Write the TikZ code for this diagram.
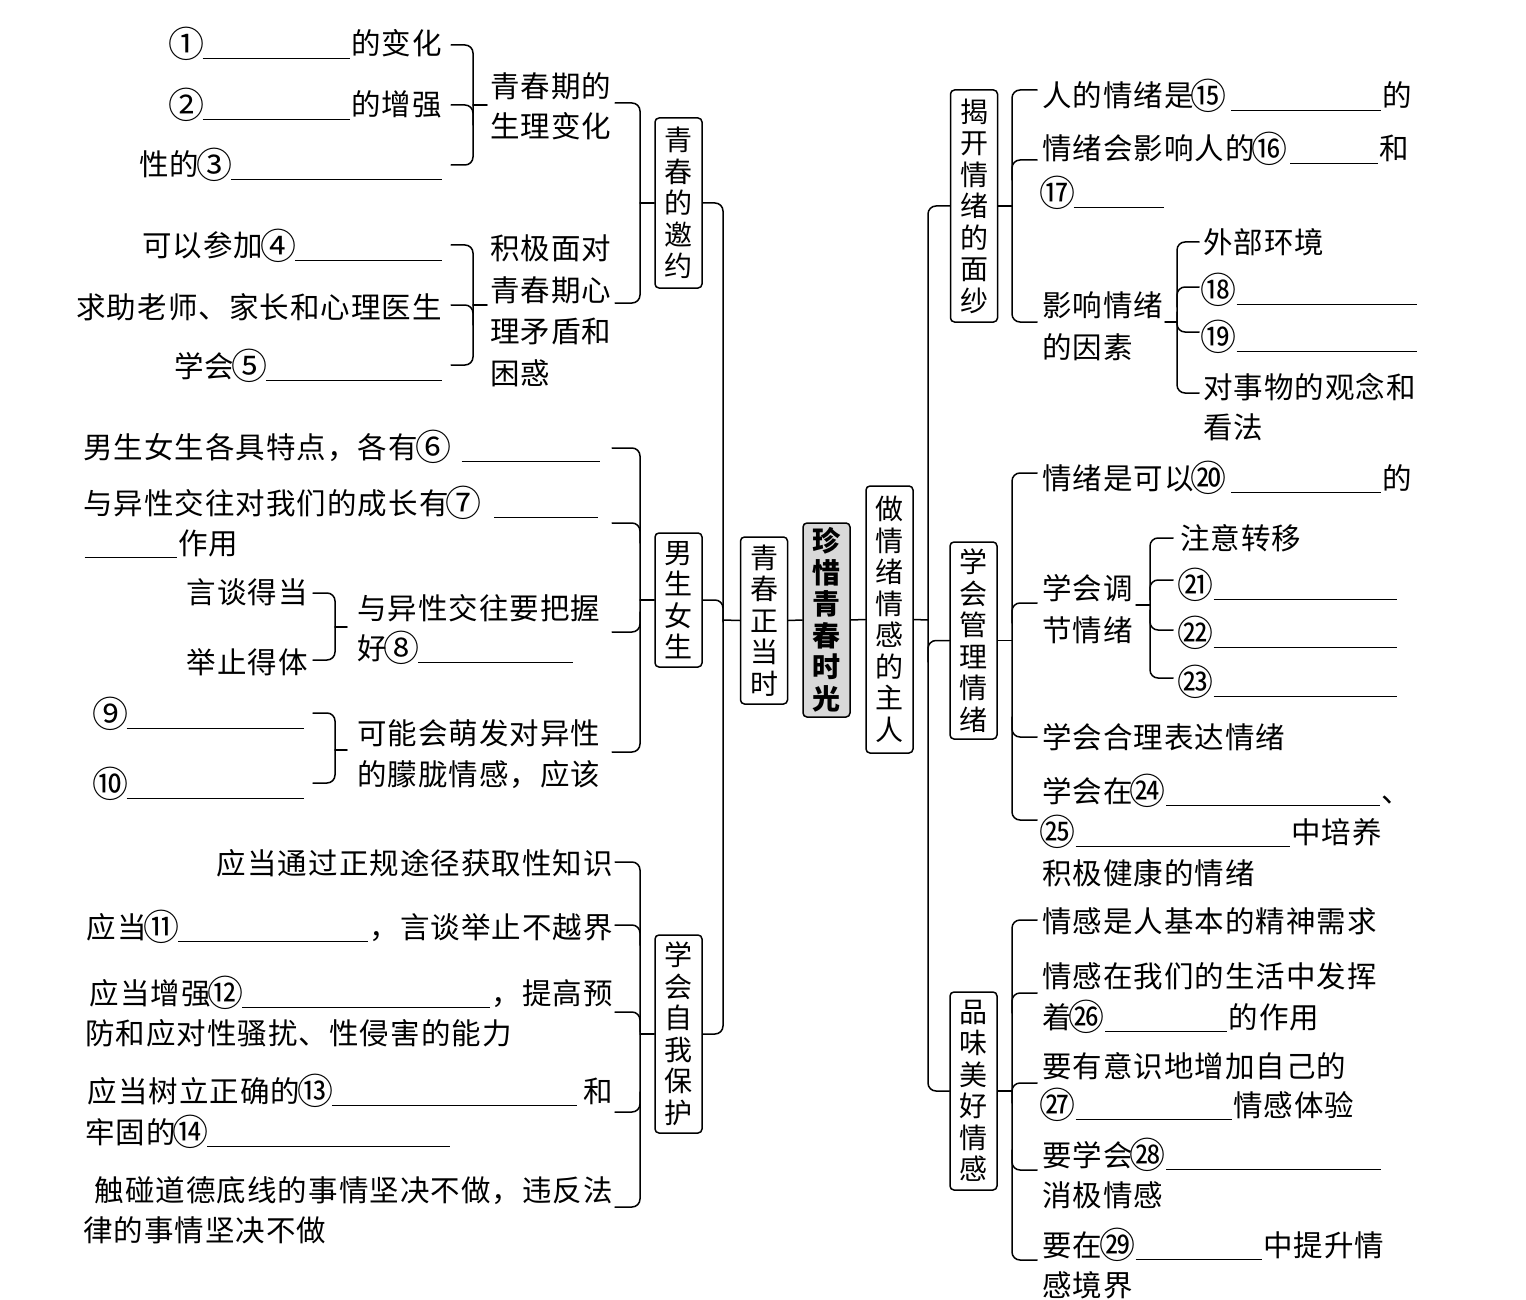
\documentclass[tikz,border=0pt]{standalone}
\usepackage{fontspec}
\usepackage{graphicx}
\setmainfont{Noto Sans CJK SC}[LetterSpace=3.5]
\newfontfamily\boxfont{Noto Sans CJK SC}
\usetikzlibrary{calc}
\newcommand\bl[1]{\hspace{1.5pt}\rule[-4pt]{#1pt}{1.4pt}\hspace{1.5pt}}
\newcommand\cn[1]{\makebox[30pt][c]{\raisebox{-2.5pt}{\scalebox{1.22}{#1}}}}
\begin{document}
\begin{tikzpicture}[x=1pt,y=-1pt,
  txl/.style={inner sep=0pt, anchor=base west, font=\fontsize{29.5}{41}\selectfont},
  txr/.style={txl, anchor=base east},
  vb/.style={draw, line width=1.5pt, rounded corners=4pt, inner sep=0pt, minimum width=47pt, align=center, font=\boxfont\fontsize{28}{31.5}\selectfont},
  br/.style={draw, line width=1.5pt, rounded corners=8pt, line cap=round}]
\useasboundingbox (0,0) rectangle (1526,1300);

% ---------- boxes ----------
\node[vb, minimum height=170pt] (b1) at (678.5,203) {青\\春\\的\\邀\\约};
\node[vb, minimum height=134pt] (b2) at (678.5,600) {男\\生\\女\\生};
\node[vb, minimum height=198pt] (b3) at (678.5,1034) {学\\会\\自\\我\\保\\护};
\node[vb, minimum height=167pt] (c1) at (764,620.5) {青\\春\\正\\当\\时};
\node[vb, minimum height=194pt, fill=gray!30, font=\boxfont\bfseries\fontsize{28}{31.5}\selectfont] (c0) at (826.5,620) {珍\\惜\\青\\春\\时\\光};
\node[vb, minimum height=267pt] (c2) at (889.5,619.5) {做\\情\\绪\\情\\感\\的\\主\\人};
\node[vb, minimum height=232pt] (r1) at (974,206) {揭\\开\\情\\绪\\的\\面\\纱};
\node[vb, minimum height=197pt] (r2) at (973.5,640.5) {学\\会\\管\\理\\情\\绪};
\node[vb, minimum height=198pt] (r3) at (973.5,1091) {品\\味\\美\\好\\情\\感};

% ---------- spines ----------
\coordinate (VL) at (723,620);
\coordinate (VR) at (928,620);
\draw[br] (b1.east) -| (723,1034) -- (b3.east);
\draw[br] (b2.east) -| (723,622);
\draw[br] (VL) -- (c1.west);
\draw[br] (c1.east) -- (c0.west);
\draw[br] (c0.east) -- (c2.west);
\draw[br] (c2.east) -- (VR);
\draw[br] (r1.west) -| (928,1091) -- (r3.west);
\draw[br] (r2.west) -| (928,662);

% ---------- left texts: group 1 ----------
\node[txr] (T1) at (442,55) {\cn{①}\bl{147}的变化};
\node[txr] (T2) at (442,116) {\cn{②}\bl{147}的增强};
\node[txr] (T3) at (442,176) {性的\cn{③}\bl{211}};
\node[txr] (T4) at (442,257) {可以参加\cn{④}\bl{147}};
\node[txr] (T5) at (442,318) {求助老师、家长和心理医生};
\node[txr] (T6) at (442,377) {学会\cn{⑤}\bl{176}};
\node[txl] (P1a) at (490,98) {青春期的};
\node[txl] (P1b) at (490,138) {生理变化};
\node[txl] (P2a) at (490,259) {积极面对};
\node[txl] (P2b) at (490,301) {青春期心};
\node[txl] (P2c) at (490,342) {理矛盾和};
\node[txl] (P2d) at (490,384) {困惑};
\draw[br] (451,45) -| (473,165) -- (451,165);
\draw[br] (451,105) -| (473,125);
\draw[br] (473,105) -- (487,105);
\draw[br] (451,245) -| (473,365) -- (451,365);
\draw[br] (451,305) -| (473,325);
\draw[br] (473,305) -- (487,305);
\coordinate (V3) at (640,0);
\draw[br] (615,103) -| (640,303) -- (615,303);
\draw[br] (b1.west) -- (b1.west -| V3);

% ---------- left texts: group 2 ----------
\node[txl] (T7) at (83,458) {男生女生各具特点，各有\cn{⑥}\hspace{12pt}\bl{138}};
\node[txl] (T8a) at (83,514) {与异性交往对我们的成长有\cn{⑦}\hspace{14pt}\bl{104}};
\node[txl] (T8b) at (83,554) {\bl{92}作用};
\node[txr] (S1a) at (308,603) {言谈得当};
\node[txr] (S1b) at (308,673) {举止得体};
\node[txl] (P3a) at (357,619) {与异性交往要把握};
\node[txl] (P3b) at (357,659) {好\cn{⑧}\bl{155}};
\node[txl] (T9) at (95,725) {\cn{⑨}\bl{177}};
\node[txl] (T10) at (95,795) {\cn{⑩}\bl{177}};
\node[txl] (P4a) at (357,744) {可能会萌发对异性};
\node[txl] (P4b) at (357,785) {的朦胧情感，应该};
\draw[br] (313,593) -| (335,660) -- (313,660);
\draw[br] (335,627) -- (347,627);
\draw[br] (313,713) -| (335,783) -- (313,783);
\draw[br] (335,750) -- (347,750);
\draw[br] (612,448) -| (640,752) -- (612,752);
\draw[br] (612,523) -| (640,543);
\draw[br] (612,632) -| (640,612);
\draw[br] (b2.west) -- (b2.west -| V3);

% ---------- left texts: group 3 ----------
\node[txr] (T11) at (613,874) {应当通过正规途径获取性知识};
\node[txr] (T12) at (613,938) {应当\cn{⑪}\bl{190}，言谈举止不越界};
\node[txr] (T13a) at (613,1004) {应当增强\cn{⑫}\bl{248}，提高预};
\node[txl] (T13b) at (85,1044) {防和应对性骚扰、性侵害的能力};
\node[txr] (T14a) at (613,1102) {应当树立正确的\cn{⑬}\bl{245}\hspace{5pt}和};
\node[txl] (T14b) at (85,1143) {牢固的\cn{⑭}\bl{243}};
\node[txr] (T15a) at (613,1201) {触碰道德底线的事情坚决不做，违反法};
\node[txl] (T15b) at (83,1241) {律的事情坚决不做};
\draw[br] (615,862) -| (640,1207) -- (615,1207);
\draw[br] (615,925) -| (640,945);
\draw[br] (615,1012) -| (640,1032);
\draw[br] (615,1112) -| (640,1092);
\draw[br] (b3.west) -- (b3.west -| V3);

% ---------- right: group 1 ----------
\coordinate (V2) at (1012,0);
\node[txl] (R1) at (1042,107) {人的情绪是\cn{⑮}\hspace{6pt}\bl{150}的};
\node[txl] (R2a) at (1042,160) {情绪会影响人的\cn{⑯}\hspace{4pt}\bl{88}和};
\node[txl] (R2b) at (1042,204) {\cn{⑰}\bl{90}};
\node[txl] (R3a) at (1042,316) {影响情绪};
\node[txl] (R3b) at (1042,358) {的因素};
\node[txl] (R4) at (1203,253) {外部环境};
\node[txl] (R5) at (1203,301) {\cn{⑱}\hspace{2pt}\bl{180}};
\node[txl] (R6) at (1203,348) {\cn{⑲}\hspace{2pt}\bl{180}};
\node[txl] (R7a) at (1203,398) {对事物的观念和};
\node[txl] (R7b) at (1203,438) {看法};
\draw[br] (1037,90) -| (1012,322) -- (1037,322);
\draw[br] (1037,160) -| (1012,180);
\draw[br] (r1.east) -- (r1.east -| V2);
\draw[br] (1199,242) -| (1177,393) -- (1199,393);
\draw[br] (1199,287) -| (1177,307);
\draw[br] (1199,332) -| (1177,312);
\draw[br] (1165,322) -- (1177,322);

% ---------- right: group 2 ----------
\node[txl] (R8) at (1042,489) {情绪是可以\cn{⑳}\hspace{6pt}\bl{150}的};
\node[txl] (R9a) at (1042,599) {学会调};
\node[txl] (R9b) at (1042,641) {节情绪};
\node[txl] (R10) at (1180,549) {注意转移};
\node[txl] (R11) at (1180,596) {\cn{㉑}\hspace{2pt}\bl{183}};
\node[txl] (R12) at (1180,644) {\cn{㉒}\hspace{2pt}\bl{183}};
\node[txl] (R13) at (1180,693) {\cn{㉓}\hspace{2pt}\bl{183}};
\node[txl] (R14) at (1042,748) {学会合理表达情绪};
\node[txl] (R15a) at (1042,802) {学会在\cn{㉔}\hspace{2pt}\bl{214}、};
\node[txl] (R15b) at (1042,843) {\cn{㉕}\hspace{2pt}\bl{214}中培养};
\node[txl] (R15c) at (1042,884) {积极健康的情绪};
\draw[br] (1037,473) -| (1012,820) -- (1037,820);
\draw[br] (1037,603) -| (1012,623);
\draw[br] (1037,737) -| (1012,717);
\draw[br] (r2.east) -- (r2.east -| V2);
\draw[br] (1173,538) -| (1150,678) -- (1173,678);
\draw[br] (1173,580) -| (1150,600);
\draw[br] (1173,630) -| (1150,610);
\draw[br] (1136,605) -- (1150,605);

% ---------- right: group 3 ----------
\node[txl] (R16) at (1042,932) {情感是人基本的精神需求};
\node[txl] (R17a) at (1042,987) {情感在我们的生活中发挥};
\node[txl] (R17b) at (1042,1028) {着\cn{㉖}\hspace{2pt}\bl{122}的作用};
\node[txl] (R18a) at (1042,1077) {要有意识地增加自己的};
\node[txl] (R18b) at (1042,1116) {\cn{㉗}\hspace{2pt}\bl{156}情感体验};
\node[txl] (R19a) at (1042,1166) {要学会\cn{㉘}\hspace{2pt}\bl{215}};
\node[txl] (R19b) at (1042,1206) {消极情感};
\node[txl] (R20a) at (1042,1256) {要在\cn{㉙}\hspace{2pt}\bl{126}中提升情};
\node[txl] (R20b) at (1042,1296) {感境界};
\draw[br] (1037,920) -| (1012,1260) -- (1037,1260);
\draw[br] (1037,993) -| (1012,1013);
\draw[br] (1037,1083) -| (1012,1103);
\draw[br] (1037,1170) -| (1012,1150);
\draw[br] (r3.east) -- (r3.east -| V2);
\end{tikzpicture}
\end{document}
